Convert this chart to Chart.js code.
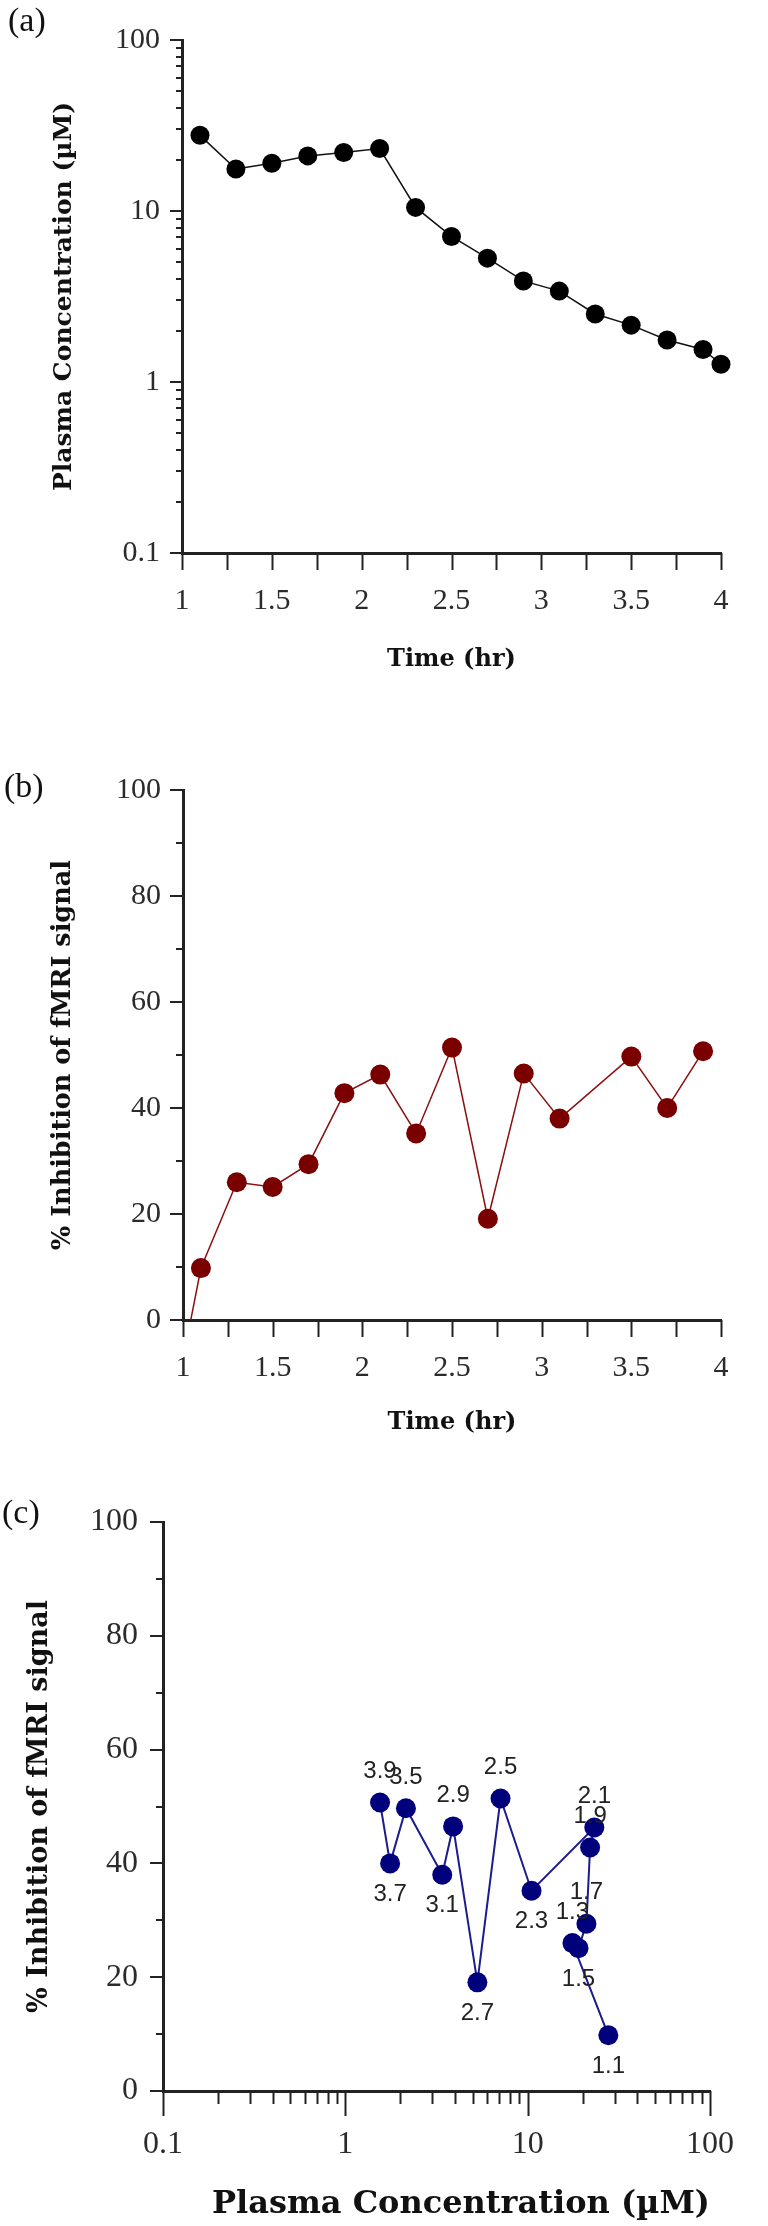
<!DOCTYPE html>
<html>
<head>
<meta charset="utf-8">
<script src="https://cdn.jsdelivr.net/npm/chart.js@4.4.1/dist/chart.umd.min.js"></script>
<style>
  body { margin: 0; background: #fff; }
  #wrap { position: relative; width: 768px; height: 2226px; }
  #wrap canvas { position: absolute; left: 0; }
</style>
</head>
<body>
<div id="wrap">
  <canvas id="chartA" width="768" height="690" style="top:0"></canvas>
  <canvas id="chartB" width="768" height="770" style="top:690px"></canvas>
  <canvas id="chartC" width="768" height="766" style="top:1460px"></canvas>
</div>
<script>
// Panel (a): plasma concentration vs time
const timeA = [1.1, 1.3, 1.5, 1.7, 1.9, 2.1, 2.3, 2.5, 2.7, 2.9, 3.1, 3.3, 3.5, 3.7, 3.9, 4.0];
const concA = [27.7, 17.6, 19.0, 21.0, 22.0, 23.2, 10.5, 7.1, 5.3, 3.9, 3.4, 2.5, 2.15, 1.76, 1.55, 1.27];

// Panel (b): % inhibition vs time (first point sits below the axis and is clipped)
const timeB = [1.0, 1.1, 1.3, 1.5, 1.7, 1.9, 2.1, 2.3, 2.5, 2.7, 2.9, 3.1, 3.5, 3.7, 3.9];
const inhibB = [-7.5, 9.8, 26.0, 25.1, 29.4, 42.8, 46.3, 35.2, 51.4, 19.1, 46.5, 38.0, 49.7, 40.0, 50.7];

// Panel (c) label placement: times whose label sits above the marker
const labelAbove = [3.9, 3.5, 2.9, 2.5, 2.1, 1.9, 1.7, 1.3];

// tick values
const xTicksTime = [1, 1.5, 2, 2.5, 3, 3.5, 4];
const xMinorTime = [1.25, 1.75, 2.25, 2.75, 3.25, 3.75];
const yTicksConc = [0.1, 1, 10, 100];
const yTicksInhib = [0, 20, 40, 60, 80, 100];
const yMinorInhib = [10, 30, 50, 70, 90];
const xTicksConc = [0.1, 1, 10, 100];

// minor ticks for log axes: 2..9 in each decade
function logMinor(decades) {
    const out = [];
    decades.slice(0, -1).forEach(d => {
        for (let k = 2; k <= 9; k++) out.push(d * k);
    });
    return out;
}
const concMinor = logMinor(yTicksConc);

const serif = '"Liberation Serif", "Times New Roman", serif';
const titleFont = '"DejaVu Serif", serif';

// draws major/minor tick marks outside the plot area
const tickMarks = {
    id: 'tickMarks',
    afterDraw(chart, args, opts) {
        const ctx = chart.ctx;
        const area = chart.chartArea;
        const xs = chart.scales.x;
        const ys = chart.scales.y;
        ctx.save();
        ctx.strokeStyle = '#222';
        ctx.lineWidth = 2;
        ctx.beginPath();
        (opts.x || []).forEach(([values, len]) => {
            values.forEach(v => {
                const px = Math.round(xs.getPixelForValue(v)) + 0.5;
                ctx.moveTo(px, area.bottom);
                ctx.lineTo(px, area.bottom + len);
            });
        });
        (opts.y || []).forEach(([values, len]) => {
            values.forEach(v => {
                const py = Math.round(ys.getPixelForValue(v));
                ctx.moveTo(area.left, py);
                ctx.lineTo(area.left - len, py);
            });
        });
        ctx.stroke();
        ctx.restore();
    }
};

// "(a)", "(b)", "(c)" panel letters
const panelLetter = {
    id: 'panelLetter',
    afterDraw(chart, args, opts) {
        if (!opts.text) return;
        const ctx = chart.ctx;
        ctx.save();
        ctx.font = '34px ' + serif;
        ctx.fillStyle = '#111';
        ctx.textAlign = 'left';
        ctx.textBaseline = 'middle';
        ctx.fillText(opts.text, opts.x, opts.y);
        ctx.restore();
    }
};

// time labels next to the markers of panel (c)
const pointLabels = {
    id: 'pointLabels',
    afterDatasetsDraw(chart, args, opts) {
        if (!opts.labels) return;
        const ctx = chart.ctx;
        const meta = chart.getDatasetMeta(0);
        ctx.save();
        ctx.font = '24px "Liberation Sans", Arial, sans-serif';
        ctx.fillStyle = '#222';
        ctx.textAlign = 'center';
        ctx.textBaseline = 'middle';
        meta.data.forEach((pt, i) => {
            const t = opts.labels[i];
            const dy = labelAbove.includes(t) ? -31 : 31;
            ctx.fillText(t.toFixed(1), pt.x, pt.y + dy);
        });
        ctx.restore();
    }
};

Chart.register(tickMarks, panelLetter, pointLabels);

function tickFont(size) {
    return { family: serif, size: size };
}

function makeChart(id, cfg) {
    return new Chart(document.getElementById(id), {
        type: 'scatter',
        data: {
            datasets: [{
                data: cfg.points,
                showLine: true,
                borderColor: cfg.lineColor,
                borderWidth: cfg.lineWidth,
                pointRadius: cfg.pointRadius,
                pointBackgroundColor: cfg.markerColor,
                pointBorderWidth: 0,
                clip: cfg.clip
            }]
        },
        options: {
            responsive: false,
            animation: false,
            devicePixelRatio: 1,
            layout: { padding: cfg.padding },
            plugins: {
                legend: { display: false },
                tooltip: { enabled: false },
                tickMarks: cfg.marks,
                panelLetter: cfg.letter,
                pointLabels: { labels: cfg.pointLabels }
            },
            scales: {
                x: Object.assign({
                    grid: { display: false, drawTicks: false },
                    border: { display: true, color: '#222', width: 3 },
                    afterFit: s => { s.height = cfg.xHeight; },
                    title: {
                        display: true,
                        text: cfg.xTitle,
                        align: cfg.xTitleAlign || 'center',
                        color: '#111',
                        font: { family: titleFont, size: cfg.xTitleSize, weight: 'bold' },
                        padding: { top: 0, bottom: 0 }
                    }
                }, cfg.x),
                y: Object.assign({
                    grid: { display: false, drawTicks: false },
                    border: { display: true, color: '#222', width: 3 },
                    afterFit: s => { s.width = cfg.yWidth; },
                    title: {
                        display: true,
                        text: cfg.yTitle,
                        color: '#111',
                        font: { family: titleFont, size: cfg.yTitleSize, weight: 'bold' },
                        padding: { top: cfg.yTitlePad, bottom: 0 }
                    }
                }, cfg.y)
            }
        }
    });
}

function fixedTicks(values) {
    return s => { s.ticks = values.map(v => ({ value: v })); };
}

const timeAxis = {
    type: 'linear', min: 1, max: 4,
    afterBuildTicks: fixedTicks(xTicksTime),
    ticks: { padding: 30, color: '#2b2b2b', font: tickFont(30), maxRotation: 0, autoSkip: false,
             callback: v => String(v) }
};

// (a)
makeChart('chartA', {
    points: timeA.map((t, i) => ({ x: t, y: concA[i] })),
    lineColor: '#111', lineWidth: 1.5, markerColor: '#000', pointRadius: 9.5,
    clip: false,
    padding: { left: 0, right: 47, top: 25, bottom: 15.6 },
    xHeight: 121.4, yWidth: 182,
    xTitle: 'Time (hr)', xTitleSize: 24,
    yTitle: 'Plasma Concentration (µM)', yTitleSize: 25, yTitlePad: 49,
    x: timeAxis,
    y: {
        type: 'logarithmic', min: 0.1, max: 100,
        afterBuildTicks: fixedTicks(yTicksConc),
        ticks: { padding: 22, color: '#2b2b2b', font: tickFont(30), autoSkip: false,
                 callback: v => String(v) }
    },
    marks: { x: [[xTicksTime, 17], [xMinorTime, 17]], y: [[yTicksConc, 12], [concMinor, 6]] },
    letter: { text: '(a)', x: 8, y: 22 }
});

// (b)
makeChart('chartB', {
    points: timeB.map((t, i) => ({ x: t, y: inhibB[i] })),
    lineColor: '#8b1010', lineWidth: 1.5, markerColor: '#7a0000',
    pointRadius: timeB.map(t => (t < 1.05 ? 0 : 10)),
    clip: { left: 20, right: 20, top: 20, bottom: 0 },
    padding: { left: 0, right: 47, top: 100, bottom: 22.6 },
    xHeight: 117.4, yWidth: 183,
    xTitle: 'Time (hr)', xTitleSize: 24,
    yTitle: '% Inhibition of fMRI signal', yTitleSize: 25.5, yTitlePad: 48,
    x: timeAxis,
    y: {
        type: 'linear', min: 0, max: 100,
        afterBuildTicks: fixedTicks(yTicksInhib),
        ticks: { padding: 22, color: '#2b2b2b', font: tickFont(30), autoSkip: false }
    },
    marks: { x: [[xTicksTime, 17], [xMinorTime, 17]], y: [[yTicksInhib, 13], [yMinorInhib, 7]] },
    letter: { text: '(b)', x: 4, y: 98 }
});

// (c): inhibition vs concentration, matched by time
const timeC = timeB.filter(t => timeA.includes(t));
const pointsC = timeC.map(t => ({
    x: concA[timeA.indexOf(t)],
    y: inhibB[timeB.indexOf(t)]
}));

makeChart('chartC', {
    points: pointsC,
    lineColor: '#1c1c8c', lineWidth: 2, markerColor: '#00007d', pointRadius: 10,
    clip: false,
    padding: { left: 0, right: 28, top: 62, bottom: 1.8 },
    xHeight: 133.2, yWidth: 163,
    xTitle: 'Plasma Concentration (µM)', xTitleSize: 32, xTitleAlign: 'end',
    yTitle: '% Inhibition of fMRI signal', yTitleSize: 27, yTitlePad: 24,
    x: {
        type: 'logarithmic', min: 0.1, max: 100,
        afterBuildTicks: fixedTicks(xTicksConc),
        ticks: { padding: 34, color: '#2b2b2b', font: tickFont(32), maxRotation: 0, autoSkip: false,
                 callback: v => String(v) }
    },
    y: {
        type: 'linear', min: 0, max: 100,
        afterBuildTicks: fixedTicks(yTicksInhib),
        ticks: { padding: 25, color: '#2b2b2b', font: tickFont(32), autoSkip: false }
    },
    marks: { x: [[xTicksConc, 25], [logMinor(xTicksConc), 13]], y: [[yTicksInhib, 13], [yMinorInhib, 7]] },
    letter: { text: '(c)', x: 2, y: 54 },
    pointLabels: timeC
});
</script>
</body>
</html>
